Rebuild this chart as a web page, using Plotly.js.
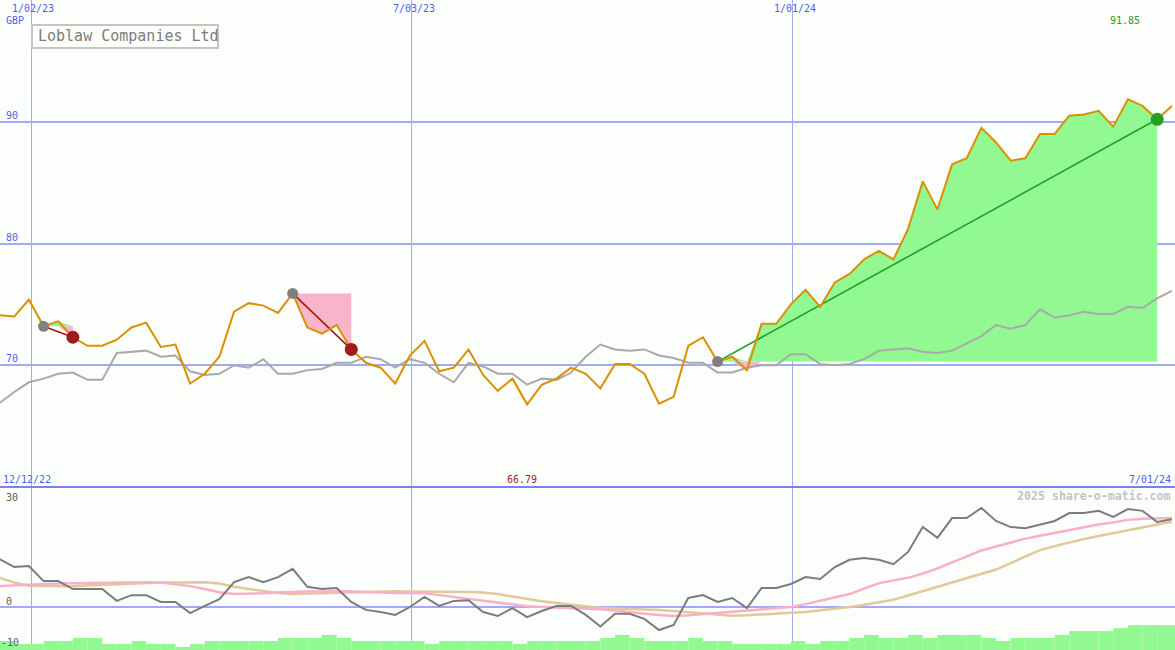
<!DOCTYPE html>
<html><head><meta charset="utf-8">
<script src="https://cdn.plot.ly/plotly-3.0.1.min.js"></script>
<style>html,body{margin:0;padding:0;background:#fbfefb;}#chart{width:1175px;height:650px;}</style>
</head><body><div id="chart"></div>
<script>
// ---- data (weekly closes) ----
const firstWeekUTC = Date.UTC(2022, 11, 18);
const price = [74.1,74.0,75.4,73.2,73.6,72.3,71.6,71.6,72.1,73.1,73.5,71.5,71.7,68.5,69.3,70.7,74.4,75.1,74.9,74.3,
  75.9,73.1,72.6,73.3,71.3,70.2,69.8,68.5,70.8,72.0,69.5,69.8,71.3,69.2,67.9,68.9,66.79,68.4,68.9,69.8,
  69.3,68.1,70.1,70.1,69.3,66.85,67.4,71.6,72.3,70.3,70.7,69.6,73.4,73.4,75.0,76.2,74.8,76.8,77.5,78.7,
  79.4,78.7,81.2,85.1,82.8,86.5,87.0,89.5,88.3,86.8,87.0,89.0,89.0,90.5,90.6,90.9,89.6,91.85,91.3,90.2,91.3];
const relative = [66.9,67.8,68.6,68.9,69.3,69.4,68.8,68.8,71.0,71.1,71.2,70.7,70.8,69.5,69.2,69.3,70.0,69.8,70.5,69.3,
  69.3,69.6,69.7,70.2,70.2,70.7,70.5,69.8,70.5,70.2,69.3,68.6,70.2,69.9,69.3,69.3,68.4,68.9,68.8,69.4,
  70.7,71.7,71.3,71.2,71.3,70.8,70.6,70.2,70.2,69.4,69.4,69.8,70.0,70.0,70.9,70.9,70.1,70.0,70.1,70.5,
  71.2,71.3,71.4,71.1,71.0,71.2,71.8,72.4,73.3,73.0,73.3,74.6,73.9,74.1,74.4,74.2,74.2,74.8,74.7,75.5,76.1];
const momentum = [13.3,11.1,11.4,7.2,7.2,5.0,5.0,5.0,1.7,3.3,3.3,1.4,1.4,-1.7,0.3,2.2,6.9,8.3,6.9,8.3,
  10.6,5.6,5.0,5.3,1.4,-0.8,-1.4,-2.2,0.0,2.8,0.3,1.7,1.9,-1.4,-2.5,-0.3,-2.8,-1.1,0.3,0.3,
  -2.2,-5.4,-1.9,-1.9,-3.3,-6.4,-5.0,2.5,3.3,1.4,2.5,-0.3,5.3,5.3,6.4,8.3,7.8,11.1,13.1,13.6,
  13.1,11.9,15.3,22.2,19.2,24.7,24.7,27.5,23.9,22.2,21.9,22.8,23.9,26.1,26.1,26.7,25.0,27.2,26.7,23.6,24.4];
const avgFast = [5.8,6.0,6.2,6.3,6.5,6.6,6.7,6.8,6.9,6.9,6.9,6.8,6.4,5.8,5.0,4.1,3.6,3.6,3.8,4.0,
  4.2,4.3,4.3,4.4,4.4,4.2,4.0,3.9,3.9,3.8,3.3,2.8,2.3,1.7,1.1,0.7,0.2,0.0,-0.1,-0.2,
  -0.3,-0.6,-1.0,-1.5,-1.9,-2.2,-2.5,-2.3,-2.0,-1.7,-1.4,-1.0,-0.6,-0.3,0.0,0.8,1.7,2.6,3.6,5.1,
  6.6,7.4,8.1,9.3,10.7,12.4,14.0,15.7,16.8,17.9,19.0,19.8,20.6,21.4,22.2,22.9,23.5,24.2,24.5,24.6,24.7];
const avgSlow = [8.1,6.8,5.9,5.8,5.8,5.8,6.0,6.2,6.4,6.6,6.7,6.8,6.8,6.9,6.9,6.5,5.6,5.0,4.4,3.9,
  3.6,3.7,3.8,3.9,4.1,4.3,4.4,4.4,4.3,4.3,4.2,4.2,4.2,4.0,3.6,2.9,2.2,1.6,1.1,0.7,
  0.2,-0.3,-0.4,-0.5,-0.6,-0.8,-1.1,-1.4,-1.7,-2.1,-2.4,-2.3,-2.0,-1.7,-1.6,-1.4,-1.0,-0.5,0.0,0.6,
  1.3,2.0,3.2,4.4,5.6,6.9,8.0,9.2,10.4,12.2,14.1,15.8,16.9,18.0,18.9,19.7,20.5,21.1,22.0,22.9,23.7];
const volume = [3,2,2,3,3,4,4,2,2,3,2,2,1,2,3,3,3,3,3,4,
  4,4,5,4,3,3,3,3,3,2,3,3,3,3,3,2,3,3,3,3,
  3,4,5,4,3,3,3,4,3,3,2,2,2,2,3,2,3,3,4,5,
  4,4,5,4,5,5,5,4,3,4,4,4,5,6.3,6.3,6.3,7.3,8.3,8.3,8.3,8.3];
const trades = [{entry:3, exit:5},{entry:20, exit:24},{entry:49, exit:79}];
const gridDates = ['2023-01-02','2023-07-03','2024-01-01'];
const gridDateLabels = ['1/02/23','7/03/23','1/01/24'];
const priceTicks = [70,80,90];
const lowerTickLabels = ['30','0','-10'];
const rangeLabels = ['12/12/22','7/01/24'];
const currency = 'GBP';
const chartTitle = 'Loblaw Companies Ltd';
const credit = '2025 share-o-matic.com';

// ---- helpers ----
const DAY = 864e5;
const dates = price.map((_, i) => new Date(firstWeekUTC + i*7*DAY).toISOString().slice(0,10));
const volX = volume.map((_, i) => new Date(firstWeekUTC + i*7*DAY + 3.5*DAY).toISOString());
const W = 1175, H = 650;
const px = x => x / W, py = y => 1 - y / H;
const xRange = ['2022-12-18 04:34', '2024-07-01 11:50'];
const FONT = 'DejaVu Sans Mono';
const BLUE = '#5060ee', GRID = '#a2aaf4';
const GREEN_FILL = '#92f892', PINK_FILL = '#f8b4c8';
const splitY = 487;

const traces = [];
// trade fills
trades.forEach(t => {
  const xs = dates.slice(t.entry, t.exit + 1);
  const seg = price.slice(t.entry, t.exit + 1);
  const lvl = price[t.entry];
  const base = xs.map(() => lvl);
  const up = seg.map(v => Math.max(v, lvl));
  const dn = seg.map(v => Math.min(v, lvl));
  traces.push({x: xs, y: base, mode: 'lines', line: {width: 0}, hoverinfo: 'skip', showlegend: false});
  traces.push({x: xs, y: up, mode: 'lines', line: {width: 0}, fill: 'tonexty', fillcolor: GREEN_FILL, hoverinfo: 'skip', showlegend: false});
  traces.push({x: xs, y: base, mode: 'lines', line: {width: 0}, hoverinfo: 'skip', showlegend: false});
  traces.push({x: xs, y: dn, mode: 'lines', line: {width: 0}, fill: 'tonexty', fillcolor: PINK_FILL, hoverinfo: 'skip', showlegend: false});
});
// relative line
traces.push({x: dates, y: relative, mode: 'lines', line: {color: '#a9a9a9', width: 2}, showlegend: false});
// trade lines
trades.forEach(t => {
  const gain = price[t.exit] > price[t.entry];
  traces.push({x: [dates[t.entry], dates[t.exit]], y: [price[t.entry], price[t.exit]], mode: 'lines',
    line: {color: gain ? '#22a022' : '#a01818', width: 1.6}, showlegend: false});
});
// price line
traces.push({x: dates, y: price, mode: 'lines', line: {color: '#dc9000', width: 2}, showlegend: false});
// dots
trades.forEach(t => {
  const gain = price[t.exit] > price[t.entry];
  traces.push({x: [dates[t.entry]], y: [price[t.entry]], mode: 'markers', marker: {color: '#808080', size: 11}, showlegend: false});
  traces.push({x: [dates[t.exit]], y: [price[t.exit]], mode: 'markers', marker: {color: gain ? '#22a022' : '#a01c1c', size: 13}, showlegend: false});
});
// lower panel
traces.push({x: volX, y: volume, type: 'bar', width: 7*DAY, marker: {color: GREEN_FILL, line: {width: 0}}, xaxis: 'x2', yaxis: 'y3', showlegend: false});
traces.push({x: dates, y: avgSlow, mode: 'lines', line: {color: '#e2c99c', width: 2.5}, xaxis: 'x2', yaxis: 'y2', showlegend: false});
traces.push({x: dates, y: avgFast, mode: 'lines', line: {color: '#f8b0c8', width: 2.5}, xaxis: 'x2', yaxis: 'y2', showlegend: false});
traces.push({x: dates, y: momentum, mode: 'lines', line: {color: '#7c7c7c', width: 2}, xaxis: 'x2', yaxis: 'y2', showlegend: false});

// annotations
const ann = [];
gridDates.forEach((d, i) => ann.push({x: d, xref: 'x', y: py(8), yref: 'paper', text: gridDateLabels[i], showarrow: false,
  xanchor: 'center', yanchor: 'middle', xshift: 2, font: {family: FONT, size: 10, color: BLUE}}));
ann.push({x: px(4), xref: 'paper', y: py(20), yref: 'paper', text: currency, showarrow: false, xanchor: 'left', yanchor: 'middle', font: {family: FONT, size: 10, color: BLUE}});
priceTicks.forEach(v => ann.push({x: px(4), xref: 'paper', y: v, yref: 'y', yshift: 6.5, text: String(v), showarrow: false,
  xanchor: 'left', yanchor: 'middle', font: {family: FONT, size: 10, color: BLUE}}));
ann.push({x: px(36), xref: 'paper', y: py(36.5), yref: 'paper', text: chartTitle, showarrow: false, xanchor: 'left', yanchor: 'middle',
  font: {family: FONT, size: 15, color: '#7c7c7c'}});
let iMax = price.indexOf(Math.max(...price)), iMin = price.indexOf(Math.min(...price));
ann.push({x: dates[iMax], xref: 'x', y: py(21), yref: 'paper', text: price[iMax].toFixed(2), showarrow: false, xanchor: 'center', yanchor: 'middle',
  xshift: -3, font: {family: FONT, size: 10, color: '#22a022'}});
ann.push({x: dates[iMin], xref: 'x', y: py(479), yref: 'paper', text: price[iMin].toFixed(2), showarrow: false, xanchor: 'center', yanchor: 'middle',
  xshift: -5, font: {family: FONT, size: 10, color: '#a01c1c'}});
ann.push({x: px(1), xref: 'paper', y: py(479), yref: 'paper', text: rangeLabels[0], showarrow: false, xanchor: 'left', yanchor: 'middle', font: {family: FONT, size: 10, color: BLUE}});
ann.push({x: px(1173), xref: 'paper', y: py(479), yref: 'paper', text: rangeLabels[1], showarrow: false, xanchor: 'right', yanchor: 'middle', font: {family: FONT, size: 10, color: BLUE}});
const lowerLabelPos = [[4, 497], [4, 601], [-1, 642]];
lowerTickLabels.forEach((t, i) => ann.push({x: px(lowerLabelPos[i][0]), xref: 'paper', y: py(lowerLabelPos[i][1]), yref: 'paper', text: t, showarrow: false,
  xanchor: 'left', yanchor: 'middle', font: {family: FONT, size: 10, color: '#606060'}}));
ann.push({x: px(1173), xref: 'paper', y: py(496), yref: 'paper', text: '<b>' + credit + '</b>', showarrow: false, xanchor: 'right', yanchor: 'middle',
  font: {family: FONT, size: 11.6, color: '#c4c4c4'}});

const layout = {
  width: W, height: H, margin: {l: 0, r: 0, t: 0, b: 0, pad: 0},
  paper_bgcolor: '#fbfefb', plot_bgcolor: '#fbfefb', hovermode: false, showlegend: false,
  xaxis: {domain: [0, 1], range: xRange, type: 'date', anchor: 'y', tickvals: gridDates, showticklabels: false, ticks: '',
    showgrid: true, gridcolor: GRID, gridwidth: 1, zeroline: false, showline: false},
  yaxis: {domain: [1 - splitY / H, 1], range: [60, 100], tickvals: priceTicks, showticklabels: false, ticks: '',
    showgrid: true, gridcolor: GRID, gridwidth: 2, zeroline: false, showline: false},
  xaxis2: {domain: [0, 1], range: xRange, type: 'date', anchor: 'y2', tickvals: gridDates, showticklabels: false, ticks: '',
    showgrid: true, gridcolor: GRID, gridwidth: 1, zeroline: false, showline: false},
  yaxis2: {domain: [0, 1 - splitY / H], range: [-11.94, 33.33], tickvals: [0], showticklabels: false, ticks: '',
    showgrid: true, gridcolor: GRID, gridwidth: 2, zeroline: false, showline: false, anchor: 'x2'},
  yaxis3: {overlaying: 'y2', anchor: 'x2', range: [0, 54.33], visible: false, showgrid: false, zeroline: false},
  shapes: [
    {type: 'line', xref: 'paper', yref: 'paper', x0: 0, x1: 1, y0: py(splitY), y1: py(splitY), line: {color: '#7484ea', width: 2}},
    {type: 'rect', xref: 'paper', yref: 'paper', x0: px(32), x1: px(218), y0: py(48), y1: py(25), line: {color: '#c4c4c4', width: 2}, fillcolor: '#fdfffd', layer: 'above'}
  ],
  annotations: ann
};
Plotly.newPlot('chart', traces, layout, {staticPlot: true, displayModeBar: false});
</script></body></html>
